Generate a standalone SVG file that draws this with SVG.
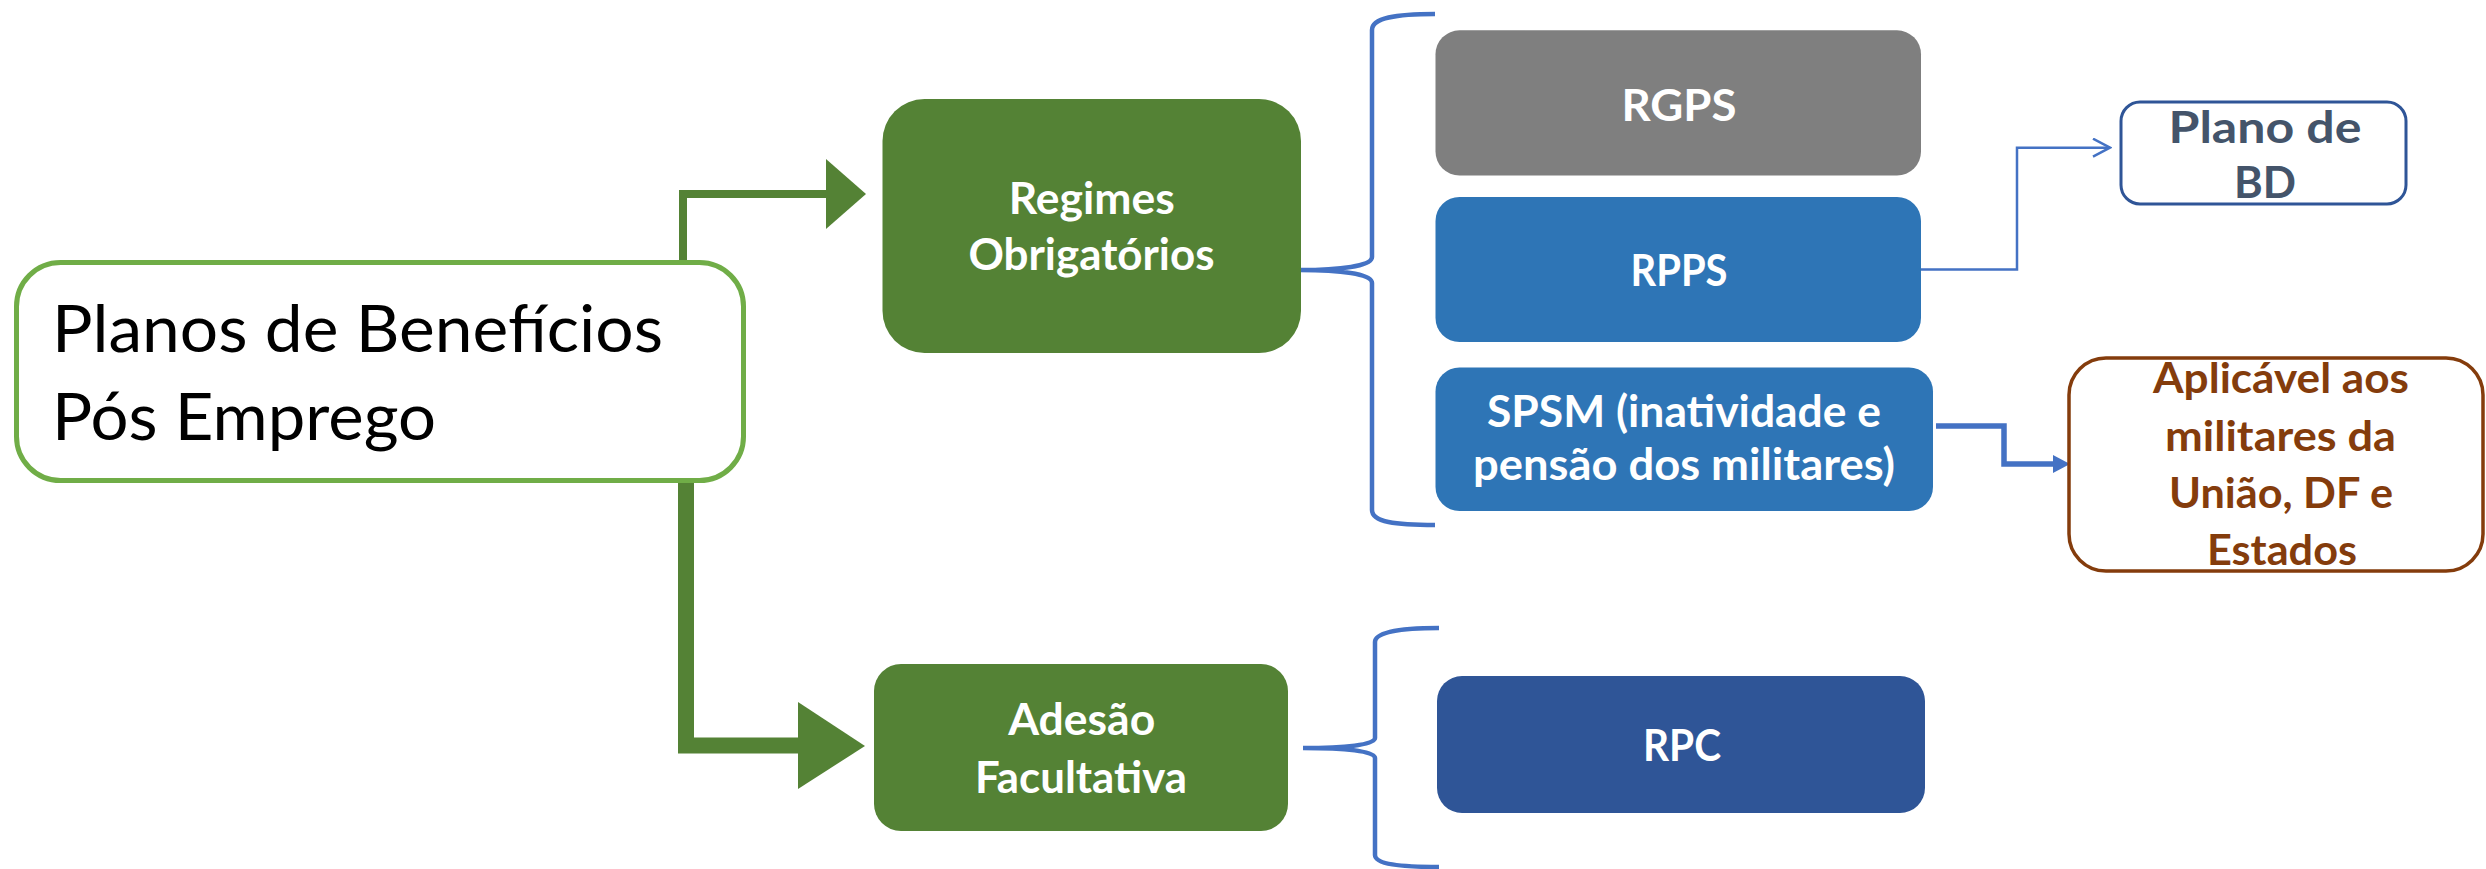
<svg xmlns="http://www.w3.org/2000/svg" width="2486" height="869" viewBox="0 0 2486 869">
<style>
.bt{font-family:Lato,"Liberation Sans",sans-serif;font-weight:bold;text-anchor:middle}
.w{fill:#FFFFFF;font-size:43px}
.main{font-family:Lato,"Liberation Sans",sans-serif;font-size:66px;fill:#000000}
.green{fill:#548235}
.blue{fill:#2E75B6}
.brace{fill:none;stroke:#4472C4;stroke-width:4.5}
</style>
<defs>
<marker id="openArrow" markerWidth="20" markerHeight="24" refX="18" refY="10" orient="auto" markerUnits="userSpaceOnUse">
<path d="M1,1 L18,10 L1,19" fill="none" stroke="#4472C4" stroke-width="2.5"/>
</marker>
</defs>
<rect width="2486" height="869" fill="#FFFFFF"/>
<g id="connectors">
<path d="M683,262 V194 H828" fill="none" stroke="#548235" stroke-width="8"/>
<polygon points="826,159 866,194 826,229" fill="#548235"/>
<path d="M686,483 V745.5 H800" fill="none" stroke="#548235" stroke-width="16"/>
<polygon points="798,702 865,746 798,789" fill="#548235"/>
<path class="brace" d="M1435,14 C1395,14 1372,18 1372,30 V257 C1372,266 1340,270 1300,270 C1340,270 1372,274 1372,283 V510 C1372,522 1395,525 1435,525"/>
<path class="brace" d="M1439,628 C1400,628 1375,632 1375,642 V738 C1375,745 1345,748 1303,748 C1345,748 1375,751 1375,758 V855 C1375,864 1400,867 1439,867"/>
<path d="M1921,269.5 H2017 V147.7 H2110" fill="none" stroke="#4472C4" stroke-width="2.5" marker-end="url(#openArrow)"/>
<path d="M1936,426 H2004 V464 H2055" fill="none" stroke="#4472C4" stroke-width="5.5"/>
<polygon points="2053,455 2070,464 2053,473" fill="#4472C4"/>
</g>
<g id="node-planos">
<rect x="16.5" y="262.5" width="727" height="218" rx="44" fill="#FFFFFF" stroke="#70AD47" stroke-width="5"/>
<text class="main" x="52" y="352" textLength="611" lengthAdjust="spacingAndGlyphs">Planos de Benefícios</text>
<text class="main" x="52" y="440" textLength="384" lengthAdjust="spacingAndGlyphs">Pós Emprego</text>
</g>
<g id="node-regimes">
<rect class="green" x="882.5" y="99" width="418.5" height="254" rx="42"/>
<text class="bt w" x="1091.7" y="213.5" textLength="166" lengthAdjust="spacingAndGlyphs">Regimes</text>
<text class="bt w" x="1091.5" y="270.3" textLength="246" lengthAdjust="spacingAndGlyphs">Obrigatórios</text>
</g>
<g id="node-adesao">
<rect class="green" x="874" y="664" width="414" height="167" rx="27"/>
<text class="bt w" x="1081.7" y="735" textLength="147" lengthAdjust="spacingAndGlyphs">Adesão</text>
<text class="bt w" x="1081" y="793" textLength="212" lengthAdjust="spacingAndGlyphs">Facultativa</text>
</g>
<g id="node-rgps">
<rect x="1435.5" y="30.3" width="485.5" height="145.3" rx="24" fill="#7F7F7F"/>
<text class="bt w" x="1679" y="120.5" textLength="115" lengthAdjust="spacingAndGlyphs">RGPS</text>
</g>
<g id="node-rpps">
<rect class="blue" x="1435.5" y="197" width="485.5" height="145" rx="24"/>
<text class="bt w" x="1679" y="285.8" textLength="97" lengthAdjust="spacingAndGlyphs">RPPS</text>
</g>
<g id="node-spsm">
<rect class="blue" x="1435.5" y="367.4" width="497.5" height="143.6" rx="24"/>
<text class="bt w" x="1684" y="427" textLength="394" lengthAdjust="spacingAndGlyphs">SPSM (inatividade e</text>
<text class="bt w" x="1684" y="480.4" textLength="422" lengthAdjust="spacingAndGlyphs">pensão dos militares)</text>
</g>
<g id="node-rpc">
<rect x="1437" y="676" width="488" height="137" rx="25" fill="#2F5597"/>
<text class="bt w" x="1682" y="761" textLength="78" lengthAdjust="spacingAndGlyphs">RPC</text>
</g>
<g id="node-planobd">
<rect x="2121" y="102" width="285" height="102" rx="19" fill="#FFFFFF" stroke="#2F5597" stroke-width="3"/>
<text class="bt" x="2265" y="142.7" font-size="44" fill="#44546A" textLength="193" lengthAdjust="spacingAndGlyphs">Plano de</text>
<text class="bt" x="2265" y="198.3" font-size="44" fill="#44546A" textLength="62" lengthAdjust="spacingAndGlyphs">BD</text>
</g>
<g id="node-aplicavel">
<rect x="2069" y="358" width="414" height="213" rx="37" fill="#FFFFFF" stroke="#843C0C" stroke-width="3.5"/>
<text class="bt" x="2281" y="393.3" font-size="42" fill="#843C0C" textLength="256" lengthAdjust="spacingAndGlyphs">Aplicável aos</text>
<text class="bt" x="2280.5" y="451" font-size="42" fill="#843C0C" textLength="231" lengthAdjust="spacingAndGlyphs">militares da</text>
<text class="bt" x="2281" y="508.3" font-size="42" fill="#843C0C" textLength="224" lengthAdjust="spacingAndGlyphs">União, DF e</text>
<text class="bt" x="2282" y="565" font-size="42" fill="#843C0C" textLength="150" lengthAdjust="spacingAndGlyphs">Estados</text>
</g>
</svg>
